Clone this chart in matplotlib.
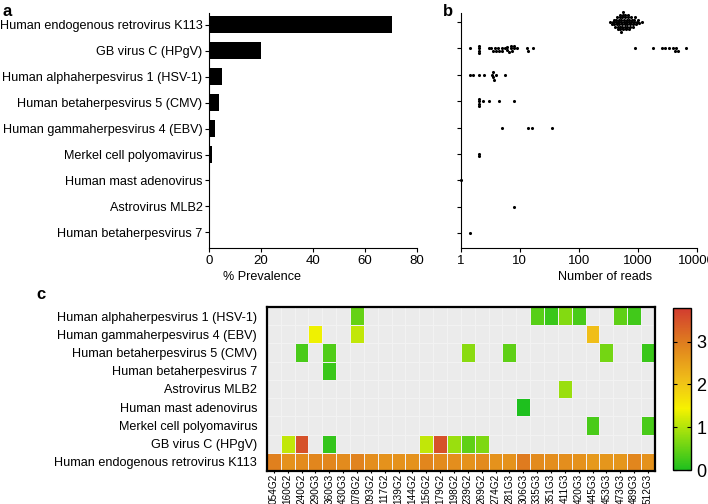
import numpy as np
import matplotlib
matplotlib.use("Agg")
import matplotlib.pyplot as plt
from matplotlib.colors import LinearSegmentedColormap
from matplotlib.ticker import NullLocator, FixedLocator, FixedFormatter

plt.rcParams["font.family"] = ["Liberation Sans", "DejaVu Sans"]

# panel a / b categories (top to bottom)
viruses = ["Human endogenous retrovirus K113", "GB virus C (HPgV)",
           "Human alphaherpesvirus 1 (HSV-1)", "Human betaherpesvirus 5 (CMV)",
           "Human gammaherpesvirus 4 (EBV)", "Merkel cell polyomavirus",
           "Human mast adenovirus", "Astrovirus MLB2", "Human betaherpesvirus 7"]
prevalence = [70.5, 20.0, 5.0, 3.8, 2.3, 1.1, 0.4, 0.4, 0.4]

# panel b, reads per sample
herv_reads = [340, 360, 380, 390, 400, 410, 420, 430, 440, 450, 455, 460, 470,
              480, 490, 495, 500, 505, 510, 520, 525, 530, 540, 545, 550, 560,
              565, 570, 580, 590, 600, 605, 610, 620, 630, 640, 650, 660, 670,
              680, 690, 700, 710, 720, 735, 750, 760, 780, 800, 820, 840, 860,
              880, 900, 930, 960, 1000, 1050, 1200]
gbv_reads = [1.4, 2, 2, 2, 2, 3, 3.3, 3.5, 3.8, 4, 4.2, 4.5, 5, 5, 5.5, 6, 6,
             6.5, 7, 7, 7.5, 8, 8, 9, 13, 14, 17,
             900, 1800, 2600, 2900, 3400, 4000, 4300, 4500, 4800, 6500]
hsv1_reads = [1.4, 1.6, 2, 2.5, 3.4, 3.5, 3.5, 3.6, 4, 5.6]
cmv_reads = [2, 2, 2, 2, 2.4, 3, 4.4, 8]
ebv_reads = [5, 14, 16, 35]
merkel_reads = [2, 2]
mast_reads = [1]
astro_reads = [8]
hhv7_reads = [1.4]
reads = [herv_reads, gbv_reads, hsv1_reads, cmv_reads, ebv_reads,
         merkel_reads, mast_reads, astro_reads, hhv7_reads]

# panel c heatmap (log10 reads)
samples = ["054G2", "160G2", "240G2", "290G3", "360G3", "430G3", "078G2",
           "093G2", "117G2", "139G2", "144G2", "156G2", "179G2", "198G2",
           "239G2", "269G2", "274G2", "281G3", "306G3", "335G3", "351G3",
           "411G3", "420G3", "445G3", "453G3", "473G3", "489G3", "512G3"]
heat_rows = ["Human alphaherpesvirus 1 (HSV-1)", "Human gammaherpesvirus 4 (EBV)",
             "Human betaherpesvirus 5 (CMV)", "Human betaherpesvirus 7",
             "Astrovirus MLB2", "Human mast adenovirus", "Merkel cell polyomavirus",
             "GB virus C (HPgV)", "Human endogenous retrovirus K113"]
hsv1_log = {"078G2": 0.5, "335G3": 0.4, "351G3": 0.2, "411G3": 0.7,
            "420G3": 0.3, "473G3": 0.45, "489G3": 0.25}
ebv_log = {"290G3": 1.4, "078G2": 1.1, "445G3": 2.1}
cmv_log = {"240G2": 0.3, "360G3": 0.35, "239G2": 0.75, "281G3": 0.45,
           "453G3": 0.6, "512G3": 0.2}
hhv7_log = {"360G3": 0.2}
astro_log = {"411G3": 0.85}
mast_log = {"306G3": 0.0}
merkel_log = {"445G3": 0.3, "512G3": 0.3}
gbv_log = {"160G2": 1.1, "240G2": 3.5, "360G3": 0.15, "156G2": 1.1,
           "179G2": 3.5, "198G2": 0.85, "239G2": 0.45, "269G2": 0.65}
herv_log = [2.95, 2.7, 2.8, 2.85, 2.85, 2.8, 2.9, 2.75, 2.7, 2.7, 2.7, 2.85,
            2.8, 2.75, 2.7, 2.8, 2.7, 2.7, 3.0, 2.8, 2.75, 2.75, 2.7, 2.6,
            2.65, 2.65, 2.85, 2.7]

fig = plt.figure(figsize=(7.08, 5.04), dpi=100)
fs = 9.1

# ---- a
ax_a = fig.add_axes([0.295, 0.508, 0.294, 0.466])
ypos = np.arange(len(viruses))
ax_a.barh(ypos, prevalence, height=0.65, color="black")
ax_a.set_ylim(8.6, -0.45)
ax_a.set_xlim(0, 80)
ax_a.set_xticks([0, 20, 40, 60, 80])
ax_a.set_yticks(ypos)
ax_a.set_yticklabels(viruses)
for s in ["top", "right"]:
    ax_a.spines[s].set_visible(False)
ax_a.tick_params(labelsize=fs, length=3, width=0.8, pad=1.5)
ax_a.tick_params(axis="x", labelsize=9.5, pad=2)
ax_a.set_xlabel("% Prevalence", fontsize=fs)
ax_a.xaxis.set_label_coords(0.255, -0.1)

# ---- b
ax_b = fig.add_axes([0.651, 0.508, 0.333, 0.466])
ax_b.set_xscale("log")
ax_b.set_xlim(1, 10000)
ax_b.set_ylim(8.57, -0.34)
px_dec = 0.333 * 708 / 4.0
px_row = 0.466 * 504 / (8.57 + 0.34)
d = 2.4
for i, vals in enumerate(reads):
    xs = np.log10(vals) * px_dec
    placed = []
    offs = []
    for x in xs:
        cands = [0.0]
        for j in range(1, 40):
            cands += [j * d / 2, -j * d / 2]
        for c in cands:
            if all((x - px) ** 2 + (c - py) ** 2 >= d * d for px, py in placed):
                break
        placed.append((x, c))
        offs.append(c / px_row)
    ax_b.scatter(vals, i + np.array(offs), s=5, color="black", lw=0,
                 clip_on=False, zorder=3)
ax_b.xaxis.set_major_locator(FixedLocator([1, 10, 100, 1000, 10000]))
ax_b.xaxis.set_major_formatter(FixedFormatter(["1", "10", "100", "1000", "10000"]))
ax_b.xaxis.set_minor_locator(NullLocator())
ax_b.set_yticks(ypos)
ax_b.set_yticklabels([])
for s in ["top", "right"]:
    ax_b.spines[s].set_visible(False)
ax_b.tick_params(labelsize=9.5, length=3, width=0.8, pad=2)
ax_b.set_xlabel("Number of reads", fontsize=fs)
ax_b.xaxis.set_label_coords(0.61, -0.1)

# ---- c
mat = np.full((len(heat_rows), len(samples)), np.nan)
row_dicts = [hsv1_log, ebv_log, cmv_log, hhv7_log, astro_log, mast_log,
             merkel_log, gbv_log]
for r, dct in enumerate(row_dicts):
    for k, v in dct.items():
        mat[r, samples.index(k)] = v
mat[-1, :] = herv_log

cmap = LinearSegmentedColormap.from_list("gyr", [
    (0.0, "#1ec01e"), (0.2, "#8cdc10"), (0.38, "#f6f200"),
    (0.55, "#f0c018"), (0.78, "#e0801e"), (1.0, "#d23c30")])

ax_c = fig.add_axes([0.377, 0.0655, 0.548, 0.3255])
ax_c.set_facecolor("#ebebeb")
mesh = ax_c.pcolormesh(np.ma.masked_invalid(mat), cmap=cmap, vmin=0, vmax=3.78,
                       edgecolor="#f2f2f2", linewidth=0.5)
ax_c.set_xlim(0, len(samples))
ax_c.set_ylim(len(heat_rows), 0)
for xx in range(1, len(samples)):
    ax_c.axvline(xx, color="#f4f4f4", lw=0.5, zorder=0.5)
ax_c.set_xticks(np.arange(len(samples)) + 0.5)
ax_c.set_xticklabels(samples, rotation=90, fontsize=7.2)
ax_c.set_yticks(np.arange(len(heat_rows)) + 0.5)
ax_c.set_yticklabels(heat_rows, fontsize=fs)
ax_c.tick_params(axis="y", length=0, pad=7)
ax_c.tick_params(axis="x", length=1.5, pad=0.5)
for s in ax_c.spines.values():
    s.set_linewidth(1.6)

cax = fig.add_axes([0.951, 0.067, 0.025, 0.3215])
cb = fig.colorbar(mesh, cax=cax, ticks=[0, 1, 2, 3])
cb.outline.set_linewidth(1.0)
cax.tick_params(labelsize=13, length=3, direction="in", left=True, pad=4)

fig.text(0.003, 0.993, "a", fontsize=12, fontweight="bold", va="top")
fig.text(0.626, 0.993, "b", fontsize=12, fontweight="bold", va="top")
fig.text(0.052, 0.43, "c", fontsize=12, fontweight="bold", va="top")

fig.savefig("out.png", dpi=100)
